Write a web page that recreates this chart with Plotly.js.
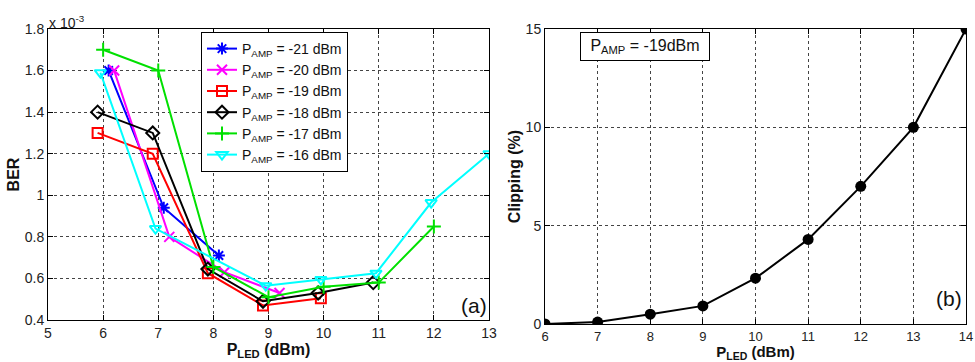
<!DOCTYPE html>
<html>
<head>
<meta charset="utf-8">
<script src="https://cdn.plot.ly/plotly-3.0.1.min.js"></script>
<style>html,body{margin:0;padding:0;background:#fff;}#chart{width:975px;height:362px;}</style>
</head>
<body>
<div id="chart"></div>
<script>
// Panel (a): BER (x 10^-3) vs P_LED (dBm)
const seriesNames = ["P<sub>AMP</sub> = -21 dBm","P<sub>AMP</sub> = -20 dBm","P<sub>AMP</sub> = -19 dBm","P<sub>AMP</sub> = -18 dBm","P<sub>AMP</sub> = -17 dBm","P<sub>AMP</sub> = -16 dBm"];
const x21 = [6.1, 7.1, 8.1];
const y21 = [1.60, 0.94, 0.71];
const x20 = [6.2, 7.2, 8.2, 9.2];
const y20 = [1.60, 0.80, 0.63, 0.53];
const x19 = [5.9, 6.9, 7.9, 8.9, 9.95];
const y19 = [1.30, 1.20, 0.625, 0.47, 0.505];
const x18 = [5.9, 6.9, 7.9, 8.9, 9.9, 10.9];
const y18 = [1.40, 1.30, 0.645, 0.49, 0.53, 0.58];
const x17 = [6, 7, 8, 9, 10, 11, 12];
const y17 = [1.70, 1.60, 0.655, 0.51, 0.56, 0.58, 0.85];
const x16 = [5.95, 6.95, 8.95, 9.95, 10.95, 11.95, 13];
const y16 = [1.59, 0.84, 0.565, 0.595, 0.625, 0.965, 1.20];
const xTicksA = [5,6,7,8,9,10,11,12,13];
const yTicksA = [0.4,0.6,0.8,1,1.2,1.4,1.6,1.8];
const yTickTextA = ["0.4","0.6","0.8","1","1.2","1.4","1.6","1.8"];

// Panel (b): Clipping (%) vs P_LED (dBm)
const xClip = [6, 7, 8, 9, 10, 11, 12, 13, 14];
const yClip = [0, 0.1, 0.5, 0.92, 2.33, 4.3, 7.0, 10.0, 15.0];
const xTicksB = [6,7,8,9,10,11,12,13,14];
const yTicksB = [0,5,10,15];

const colors = ["#0000ff","#ff00ff","#ff0000","#000000","#00e000","#00ffff"];
const symbols = ["asterisk-open","x-thin-open","square-open","diamond-open","cross-thin-open","triangle-down-open"];
const xs = [x21,x20,x19,x18,x17,x16];
const ys = [y21,y20,y19,y18,y17,y16];

const traces = xs.map((x,i)=>({
  x: x, y: ys[i], name: seriesNames[i], type: "scatter", mode: "lines+markers",
  xaxis: "x", yaxis: "y",
  line: {color: colors[i], width: 2},
  marker: {symbol: symbols[i], size: 10, color: colors[i], line: {color: colors[i], width: 2}}
}));
traces.push({
  x: xClip, y: yClip, type: "scatter", mode: "lines+markers", xaxis: "x2", yaxis: "y2",
  showlegend: false, line: {color: "#000", width: 2},
  marker: {symbol: "circle", size: 11, color: "#000"}
});

const FONT = "Liberation Sans, Arial, sans-serif";
function ax(extra){
  return Object.assign({
    showline: true, linecolor: "#000", linewidth: 1, mirror: "allticks",
    ticks: "inside", ticklen: 5, tickcolor: "#000",
    showgrid: true, gridcolor: "#444", griddash: "dot", gridwidth: 1,
    zeroline: false, tickfont: {family: FONT, size: 14, color: "#222"},
    automargin: false, fixedrange: true
  }, extra);
}

const layout = {
  width: 975, height: 362,
  margin: {l: 0, r: 0, t: 0, b: 0},
  paper_bgcolor: "#fff", plot_bgcolor: "#fff",
  font: {family: FONT, color: "#111"},
  showlegend: true,
  legend: {x: 201/975, y: (362-32)/362, xanchor: "left", yanchor: "top",
    bgcolor: "#fff", bordercolor: "#000", borderwidth: 1,
    font: {family: FONT, size: 14, color: "#111"}, tracegroupgap: 0, itemwidth: 30},
  xaxis: ax({domain: [48/975, 489/975], range: [5,13], tickvals: xTicksA, anchor: "y",
    ticklabelstandoff: 0,
    title: {text: "<b>P<sub>LED</sub> (dBm)</b>", font: {family: FONT, size: 16, color: "#111"}, standoff: 2}}),
  yaxis: ax({domain: [(362-320)/362, (362-29)/362], range: [0.4,1.8], tickvals: yTicksA, ticktext: yTickTextA, anchor: "x",
    title: {text: "<b>BER</b>", font: {family: FONT, size: 16, color: "#111"}, standoff: 1}}),
  xaxis2: ax({domain: [545/975, 966/975], range: [6,14], tickvals: xTicksB, anchor: "y2",
    ticklabelstandoff: 0, tickfont: {family: FONT, size: 13, color: "#222"},
    title: {text: "<b>P<sub>LED</sub> (dBm)</b>", font: {family: FONT, size: 15, color: "#111"}, standoff: 8}}),
  yaxis2: ax({domain: [(362-324)/362, (362-29)/362], range: [0,15], tickvals: yTicksB, anchor: "x2",
    title: {text: "<b>Clipping (%)</b>", font: {family: FONT, size: 16, color: "#111"}, standoff: 1}}),
  annotations: [
    {xref: "paper", yref: "paper", x: 47/975, y: (362-11)/362, xanchor: "left", yanchor: "top",
     text: "x 10<sup>-3</sup>", showarrow: false, font: {family: FONT, size: 14, color: "#222"}},
    {xref: "x", yref: "y", x: 12.72, y: 0.47, xanchor: "center", yanchor: "middle",
     text: "(a)", showarrow: false, font: {family: FONT, size: 21, color: "#111"}},
    {xref: "x2", yref: "y2", x: 13.68, y: 1.3, xanchor: "center", yanchor: "middle",
     text: "(b)", showarrow: false, font: {family: FONT, size: 21, color: "#111"}},
    {xref: "paper", yref: "paper", x: 645/975, y: (362-47)/362, xanchor: "center", yanchor: "middle",
     text: "P<sub>AMP</sub> = -19dBm", showarrow: false, bgcolor: "#fff", bordercolor: "#000", borderwidth: 1,
     borderpad: 4, width: 120, font: {family: FONT, size: 16, color: "#111"}}
  ]
};

Plotly.newPlot("chart", traces, layout, {displayModeBar: false, staticPlot: true});
</script>
</body>
</html>
